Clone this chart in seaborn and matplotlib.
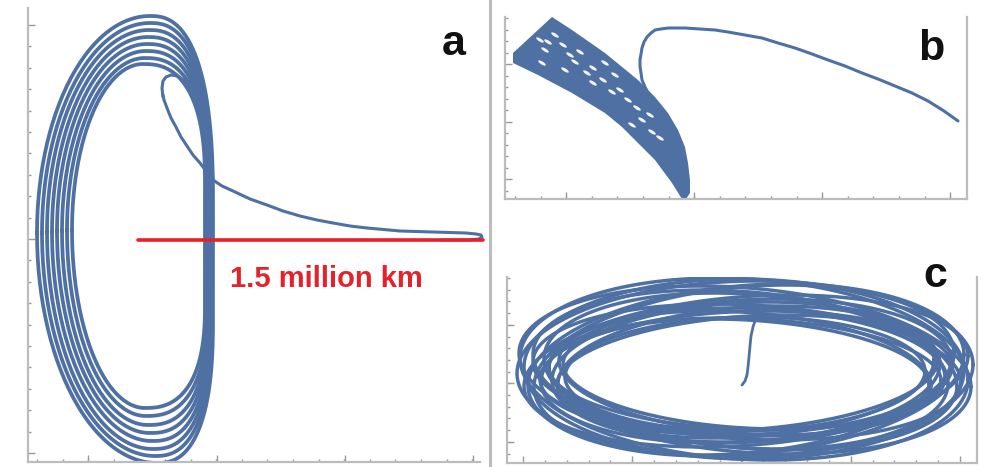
import numpy as np
import pandas as pd
import matplotlib
matplotlib.use("Agg")
import matplotlib.pyplot as plt
import seaborn as sns
from matplotlib.lines import Line2D

# ---------------- data (panel units) ----------------
# Panel a: nested halo-orbit loops (extents of each revolution)
a_left   = [37, 42, 47, 52, 57, 62, 67, 72]
a_top    = [16, 23, 30, 37, 44, 51, 58, 64]
a_bottom = [463, 456, 449, 441, 433, 425, 416, 408]
a_top_x  = [150, 150, 149, 148, 147, 146, 145, 143]
a_bot_x  = [157, 155, 153, 152, 150, 148, 146, 145]
a_right  = [213, 212, 211, 210, 209, 208, 207, 205]
a_mid_y  = [233, 233, 232, 232, 231, 231, 230, 230]
a_rtop_y = [205, 202, 199, 196, 193, 190, 187, 184]
a_rbot_y = [318, 316, 314, 312, 310, 308, 306, 304]
# Panel a: transfer trajectory (tail and insertion lobe)
a_tail_x = [163, 162, 163, 166, 171, 178, 186, 194, 201, 206, 210, 213, 222, 233, 250,
            267, 283, 300, 317, 333, 350, 367, 400, 433, 466, 476, 481, 482, 479, 470, 440]
a_tail_y = [97, 88, 81, 77, 75, 76, 82, 93, 108, 125, 150, 180, 186, 191, 199,
            205, 211, 216, 220, 223, 226, 228, 231, 232, 233, 234, 235, 237, 239, 240, 240]
a_lobe_x = [213, 206, 200, 193, 187, 181, 176, 171, 167, 164, 163]
a_lobe_y = [180, 171, 163, 155, 146, 137, 127, 118, 108, 100, 95]
# Panel a: scale bar
bar_x = [138, 483]
bar_y = [240, 240]

# Panel b: band of revolutions (upper edge then lower edge) and transfer arc
b_band_x = [513, 552, 572, 605, 638, 655, 668, 678, 685, 688, 690, 690, 686,
            682, 672, 655, 638, 622, 605, 572, 538, 513]
b_band_y = [53, 17, 30, 53, 80, 97, 113, 130, 147, 163, 180, 193, 199,
            199, 183, 160, 143, 127, 113, 93, 75, 63]
b_hole_x = [555, 563, 580, 548, 575, 565, 593, 603, 593, 612, 620, 628, 605, 642,
            650, 632, 660, 542, 540, 587, 545, 652, 570, 615, 637]
b_hole_y = [35, 45, 52, 42, 62, 70, 68, 80, 83, 92, 90, 100, 63, 120,
            115, 125, 138, 63, 40, 73, 50, 132, 55, 75, 108]
b_arc_x = [652, 648, 645, 642, 641, 640, 640, 641, 642, 644, 647, 651, 655, 661, 668,
           675, 685, 700, 715, 728, 745, 762, 778, 795, 812, 828, 845, 862, 878, 895, 912, 928, 944, 958]
b_arc_y = [98, 93, 87, 80, 73, 66, 60, 54, 48, 42, 37, 33, 30, 29, 28,
           28, 28, 29, 30, 32, 35, 38, 43, 48, 54, 60, 66, 73, 79, 86, 93, 101, 111, 121]

# Panel c: family of revolutions (size and tilt of each loop) and transfer arc
c_cx = [745, 744, 746, 745, 746, 747, 747, 746, 745, 745, 746, 746, 744, 744, 745, 746, 747, 746, 745, 746]
c_cy = [369, 369, 370, 370, 371, 372, 373, 374, 374, 373, 372, 371, 370, 369, 370, 371, 372, 373, 374, 372]
c_ax = [228, 224, 218, 212, 205, 198, 190, 183, 180, 186, 194, 202, 210, 220, 226, 222, 214, 206, 196, 188]
c_ay = [88, 91, 86, 80, 72, 64, 58, 55, 57, 62, 70, 78, 85, 90, 84, 76, 68, 62, 56, 66]
c_ph = [0.05, -0.12, 0.18, -0.20, 0.15, -0.08, 0.20, -0.18, 0.05, -0.20,
        0.12, -0.16, 0.20, -0.02, -0.20, 0.20, -0.15, 0.10, -0.12, 0.18]
c_arc_x = [742, 745, 747, 748, 749, 750, 751, 753, 756]
c_arc_y = [385, 381, 375, 367, 357, 346, 336, 327, 318]

BLUE = "#4f70a3"
RED = "#e8202a"
GREY = "#bcbcbc"
W, H = 987, 467

sns.set_theme(style="white")
plt.rcParams["font.family"] = ["Liberation Sans", "DejaVu Sans"]

fig = plt.figure(figsize=(W / 100, H / 100), dpi=100)


def px_axes(l, t, r, b):
    ax = fig.add_axes([l / W, 1 - b / H, (r - l) / W, (b - t) / H])
    ax.set_xlim(l, r)
    ax.set_ylim(b, t)
    ax.set_facecolor("white")
    return ax


def style(ax, right, xmin, xmaj, ymin, ymaj):
    for s in ["top", "right", "left", "bottom"]:
        ax.spines[s].set_visible(False)
    for s in ["left", "bottom"] + (["right"] if right else []):
        ax.spines[s].set_visible(True)
        ax.spines[s].set_color(GREY)
        ax.spines[s].set_linewidth(1.6)
    ax.set_xticks(xmaj)
    ax.set_xticks(xmin, minor=True)
    ax.set_yticks(ymaj)
    ax.set_yticks(ymin, minor=True)
    ax.tick_params(which="both", direction="in", color="#9a9a9a", width=1.0,
                   bottom=True, left=True, top=False, right=False,
                   labelbottom=False, labelleft=False)
    ax.tick_params(which="major", length=5)
    ax.tick_params(which="minor", length=2.5)
    ax.set_xlabel("")
    ax.set_ylabel("")
    ax.grid(False)


def line(ax, x, y, lw, color=BLUE, clip=True):
    df = pd.DataFrame({"x": x, "y": y})
    sns.lineplot(data=df, x="x", y="y", sort=False, estimator=None, ax=ax,
                 color=color, lw=lw, solid_capstyle="round", solid_joinstyle="round",
                 clip_on=clip)


def halo_loop(L, T, B, xt, xb, R, yL, yRt, yRb, n=60):
    t = np.linspace(0, np.pi / 2, n)
    c, s = np.cos(t), np.sin(t)
    cr, sr = c ** 0.8, s ** 0.8
    xs = np.concatenate([xt - (xt - L) * c, xt + (R - xt) * sr, [R, R],
                         xb + (R - xb) * cr, xb - (xb - L) * s])
    ys = np.concatenate([yL - (yL - T) * s, yRt - (yRt - T) * cr, [yRt, yRb],
                         yRb + (B - yRb) * sr, yL + (B - yL) * c])
    return xs, ys


# ---------------- panel a ----------------
ax_a = px_axes(28, 8, 480, 462)
for i in range(len(a_left)):
    xs, ys = halo_loop(a_left[i], a_top[i], a_bottom[i], a_top_x[i], a_bot_x[i],
                       a_right[i], a_mid_y[i], a_rtop_y[i], a_rbot_y[i])
    line(ax_a, xs, ys, 2.7)
line(ax_a, a_tail_x, a_tail_y, 2.2, clip=False)
line(ax_a, a_lobe_x, a_lobe_y, 2.2)
line(ax_a, bar_x, bar_y, 2.6, color=RED, clip=False)
style(ax_a, False,
      list(37 + 25.6 * np.arange(18)), [88, 217, 345, 473],
      list(25 + 21.4 * np.arange(21)), [25, 239, 453])

# ---------------- panel b ----------------
ax_b = px_axes(505, 17, 967, 199)
ax_b.fill(b_band_x, b_band_y, color=BLUE, lw=0)
ang = np.deg2rad(-32)
tt = np.linspace(0, 2 * np.pi, 20)
ex, ey = 1.0 * np.cos(tt), 0.35 * np.sin(tt)
hole = np.column_stack([ex * np.cos(ang) - ey * np.sin(ang), ex * np.sin(ang) + ey * np.cos(ang)])
sns.scatterplot(x=b_hole_x, y=b_hole_y, ax=ax_b, marker=hole, s=30, color="#f4f6fa",
                edgecolor="none", linewidth=0, legend=False)
line(ax_b, b_arc_x, b_arc_y, 2.2)
style(ax_b, True,
      list(515 + 25.6 * np.arange(18)), [566, 694, 822, 950],
      list(18 + 11.5 * np.arange(16)), [64, 121.5, 179])

# ---------------- panel c ----------------
ax_c = px_axes(507, 277, 977, 463)
tc = np.linspace(0, 2 * np.pi, 300)
for i in range(len(c_ax)):
    line(ax_c, c_cx[i] + c_ax[i] * np.cos(tc),
         c_cy[i] - c_ay[i] * np.sin(tc + c_ph[i]), 2.5)
line(ax_c, c_arc_x, c_arc_y, 2.0)
style(ax_c, True,
      list(523 + 21.85 * np.arange(21)), [523, 632, 741, 851, 960],
      list(278 + 11.7 * np.arange(16)), [325, 383, 442])

# ---------------- annotations ----------------
fig.add_artist(Line2D([490 / W, 490 / W], [0, 1], transform=fig.transFigure,
                      color=GREY, lw=2.2))
fig.text(230 / W, 1 - 287 / H, "1.5 million km", color=RED, fontsize=21,
         fontweight="bold", ha="left", va="baseline")
fig.text(454 / W, 1 - 55 / H, "a", color="#111111", fontsize=31,
         fontweight="bold", ha="center", va="baseline")
fig.text(931 / W, 1 - 60 / H, "b", color="#111111", fontsize=31,
         fontweight="bold", ha="center", va="baseline")
fig.text(935 / W, 1 - 287 / H, "c", color="#111111", fontsize=31,
         fontweight="bold", ha="center", va="baseline")

fig.savefig("out.png", dpi=100, facecolor="white")
